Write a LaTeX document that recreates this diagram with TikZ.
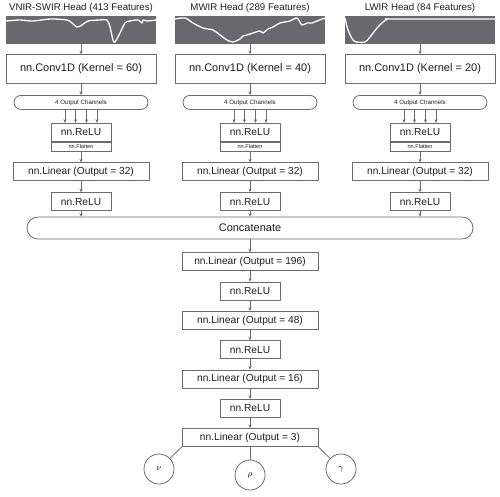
\documentclass[tikz,border=0pt]{standalone}
\usepackage{fontspec}
\setmainfont{Liberation Sans}
\usetikzlibrary{arrows.meta,positioning}

\definecolor{edgegray}{HTML}{6C6C6C}
\definecolor{specgray}{HTML}{69696D}
\definecolor{inkgray}{HTML}{1E1E1E}

\tikzset{
  layerbox/.style = {rectangle, draw=edgegray, fill=white, line width=0.8pt,
                     inner sep=0pt, minimum height=18pt, text=inkgray,
                     font=\fontsize{10.2}{12}\selectfont},
  convbox/.style  = {layerbox, minimum width=150pt, minimum height=29pt,
                     font=\fontsize{11}{13}\selectfont},
  linbox/.style   = {layerbox, minimum width=136pt},
  relubox/.style  = {layerbox, minimum width=60pt},
  flatbox/.style  = {layerbox, minimum width=60pt, minimum height=9pt,
                     font=\fontsize{5.6}{6}\selectfont},
  chanbox/.style  = {rectangle, rounded corners=7pt, draw=edgegray,
                     line width=0.8pt, inner sep=0pt, text=inkgray,
                     minimum width=134pt, minimum height=14pt,
                     font=\fontsize{6.2}{7}\selectfont},
  catbox/.style   = {rectangle, rounded corners=11pt, draw=edgegray,
                     line width=0.8pt, inner sep=0pt, text=inkgray,
                     minimum width=446pt, minimum height=22pt,
                     font=\fontsize{11}{13}\selectfont},
  specbox/.style  = {rectangle, fill=specgray, inner sep=0pt,
                     minimum width=150pt, minimum height=28pt},
  headlabel/.style= {inner sep=0pt, text=inkgray,
                     font=\fontsize{9.7}{11}\selectfont},
  outnode/.style  = {circle, draw=edgegray, line width=0.8pt, fill=white,
                     minimum size=30pt, inner sep=0pt,
                     font=\fontsize{9}{10}\selectfont},
  myarrow/.style  = {-{Stealth[length=3.5pt,width=3.2pt]}, edgegray,
                     line width=0.8pt},
  plainline/.style= {edgegray, line width=0.8pt},
  specline/.style = {white, line width=1.3pt, line join=round},
}

\begin{document}
\begin{tikzpicture}[x=1pt, y=-1pt, node distance=11pt]
  \useasboundingbox (0,0) rectangle (500,496);

  %% ---- VNIR-SWIR column ----
  \node[headlabel] (headA) at (81,8) {VNIR-SWIR Head (413 Features)};
  \node[specbox] (specA) at (81,30) {};
  \draw[specline] plot[smooth, tension=0.5] coordinates {
    (6,21) (20,20) (33,21) (50,19) (67,20) (72,23) (77,27) (82,25)
    (88,21) (100,20) (107,20) (110,27) (113,40) (115,42) (120,33)
    (125,23) (130,21) (138,20) (142,23) (143,20) (147,21) (156,20)};
  \node[convbox, below=10pt of specA] (convA) {nn.Conv1D (Kernel = 60)};
  \node[chanbox, below=of convA]      (chanA) {4 Output Channels};
  \node[relubox, below=13pt of chanA] (reluA) {nn.ReLU};
  \node[flatbox, below=0pt of reluA]  (flatA) {nn.Flatten};
  \node[linbox, below=of flatA]       (linA)  {nn.Linear (Output = 32)};
  \node[relubox, below=of linA]       (actA)  {nn.ReLU};

  %% ---- MWIR column ----
  \node[headlabel] (headB) at (250,8) {MWIR Head (289 Features)};
  \node[specbox] (specB) at (250,30) {};
  \draw[specline] plot[smooth, tension=0.5] coordinates {
    (175,19) (185,18) (193,23) (203,28) (213,30) (220,35) (227,40)
    (233,42) (240,39) (243,36) (247,35) (253,33) (260,31) (263,33)
    (268,29) (273,27) (280,23) (290,21) (297,18) (302,25) (307,23)
    (312,23) (317,21) (325,18)};
  \node[convbox, below=10pt of specB] (convB) {nn.Conv1D (Kernel = 40)};
  \node[chanbox, below=of convB]      (chanB) {4 Output Channels};
  \node[relubox, below=13pt of chanB] (reluB) {nn.ReLU};
  \node[flatbox, below=0pt of reluB]  (flatB) {nn.Flatten};
  \node[linbox, below=of flatB]       (linB)  {nn.Linear (Output = 32)};
  \node[relubox, below=of linB]       (actB)  {nn.ReLU};

  %% ---- LWIR column ----
  \node[headlabel] (headC) at (420,8) {LWIR Head (84 Features)};
  \node[specbox] (specC) at (420,30) {};
  \draw[specline] plot[smooth, tension=0.5] coordinates {
    (345,18) (348,30) (353,40) (357,42) (365,42) (370,37) (377,28)
    (383,22) (388,19) (393,19) (495,19)};
  \node[convbox, below=10pt of specC] (convC) {nn.Conv1D (Kernel = 20)};
  \node[chanbox, below=of convC]      (chanC) {4 Output Channels};
  \node[relubox, below=13pt of chanC] (reluC) {nn.ReLU};
  \node[flatbox, below=0pt of reluC]  (flatC) {nn.Flatten};
  \node[linbox, below=of flatC]       (linC)  {nn.Linear (Output = 32)};
  \node[relubox, below=of linC]       (actC)  {nn.ReLU};

  %% ---- Shared trunk ----
  \node[catbox] (cat) at (250,228) {Concatenate};
  \node[linbox, below=13pt of cat]   (fc1)  {nn.Linear (Output = 196)};
  \node[relubox, below=10.5pt of fc1] (act1) {nn.ReLU};
  \node[linbox, below=10.5pt of act1] (fc2)  {nn.Linear (Output = 48)};
  \node[relubox, below=10.5pt of fc2] (act2) {nn.ReLU};
  \node[linbox, below=10.5pt of act2] (fc3)  {nn.Linear (Output = 16)};
  \node[relubox, below=10.5pt of fc3] (act3) {nn.ReLU};
  \node[linbox, below=10.5pt of act3] (fc4)  {nn.Linear (Output = 3)};

  %% ---- Outputs ----
  \node[outnode] (nu)  at (159,469) {$\nu$};
  \node[outnode] (rho) at (250,475) {$\rho$};
  \node[outnode] (gam) at (341,469) {$\gamma$};

  %% ---- Arrows: heads ----
  \draw[myarrow] (specA) -- (convA);
  \draw[myarrow] (convA) -- (chanA);
  \draw[myarrow] ([xshift=-16pt]chanA.south) -- ([xshift=-16pt]reluA.north);
  \draw[myarrow] ([xshift=-5.5pt]chanA.south) -- ([xshift=-5.5pt]reluA.north);
  \draw[myarrow] ([xshift=5.5pt]chanA.south) -- ([xshift=5.5pt]reluA.north);
  \draw[myarrow] ([xshift=16pt]chanA.south) -- ([xshift=16pt]reluA.north);
  \draw[myarrow] (flatA) -- (linA);
  \draw[myarrow] (linA) -- (actA);
  \draw[myarrow] (actA) -- (actA |- cat.north);

  \draw[myarrow] (specB) -- (convB);
  \draw[myarrow] (convB) -- (chanB);
  \draw[myarrow] ([xshift=-16pt]chanB.south) -- ([xshift=-16pt]reluB.north);
  \draw[myarrow] ([xshift=-5.5pt]chanB.south) -- ([xshift=-5.5pt]reluB.north);
  \draw[myarrow] ([xshift=5.5pt]chanB.south) -- ([xshift=5.5pt]reluB.north);
  \draw[myarrow] ([xshift=16pt]chanB.south) -- ([xshift=16pt]reluB.north);
  \draw[myarrow] (flatB) -- (linB);
  \draw[myarrow] (linB) -- (actB);
  \draw[myarrow] (actB) -- (cat);

  \draw[myarrow] (specC) -- (convC);
  \draw[myarrow] (convC) -- (chanC);
  \draw[myarrow] ([xshift=-16pt]chanC.south) -- ([xshift=-16pt]reluC.north);
  \draw[myarrow] ([xshift=-5.5pt]chanC.south) -- ([xshift=-5.5pt]reluC.north);
  \draw[myarrow] ([xshift=5.5pt]chanC.south) -- ([xshift=5.5pt]reluC.north);
  \draw[myarrow] ([xshift=16pt]chanC.south) -- ([xshift=16pt]reluC.north);
  \draw[myarrow] (flatC) -- (linC);
  \draw[myarrow] (linC) -- (actC);
  \draw[myarrow] (actC) -- (actC |- cat.north);

  %% ---- Arrows: trunk ----
  \draw[myarrow] (cat) -- (fc1);
  \draw[myarrow] (fc1) -- (act1);
  \draw[myarrow] (act1) -- (fc2);
  \draw[myarrow] (fc2) -- (act2);
  \draw[myarrow] (act2) -- (fc3);
  \draw[myarrow] (fc3) -- (act3);
  \draw[myarrow] (act3) -- (fc4);

  %% ---- Output lines ----
  \draw[plainline] (fc4.south west) -- (nu);
  \draw[plainline] (fc4.south) -- (rho);
  \draw[plainline] (fc4.south east) -- (gam);

\end{tikzpicture}
\end{document}
